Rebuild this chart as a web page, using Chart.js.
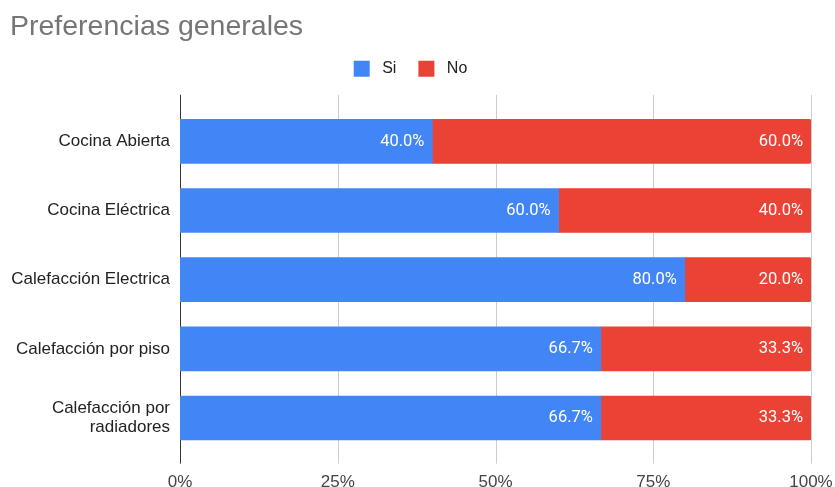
<!DOCTYPE html>
<html>
<head>
<meta charset="utf-8">
<script src="https://cdn.jsdelivr.net/npm/chart.js@4"></script>
<style>
  html, body { margin: 0; padding: 0; background: #fff; }
  #wrap { width: 835px; height: 487px; }
</style>
</head>
<body>
<div id="wrap"><canvas id="preferenciasChart"></canvas></div>
<script>
// Preferencias generales (porcentaje Si / No)
const categorias = [
  'Cocina Abierta',
  'Cocina Eléctrica',
  'Calefacción Electrica',
  'Calefacción por piso',
  ['Calefacción por', 'radiadores']
];
const valoresSi = [40.0, 60.0, 80.0, 66.7, 66.7];
const valoresNo = [60.0, 40.0, 20.0, 33.3, 33.3];
const ticksX = [0, 25, 50, 75, 100];

const FUENTE = "'Liberation Sans', Arial, sans-serif";

// deja mas aire entre la leyenda y las barras
const espacioLeyenda = {
  id: 'espacioLeyenda',
  beforeInit(chart) {
    const fitOriginal = chart.legend.fit;
    chart.legend.fit = function () {
      fitOriginal.call(this);
      this.height += 20;
    };
  }
};

// lineas verticales de la grilla y el eje, un poco mas largas que el area
const grillaExtendida = {
  id: 'grillaExtendida',
  beforeDatasetsDraw(chart) {
    const { ctx, chartArea, scales } = chart;
    const top = chartArea.top - 12;
    const bottom = chartArea.bottom + 11;
    ctx.save();
    ctx.lineWidth = 1;
    ticksX.forEach(v => {
      const x = Math.round(scales.x.getPixelForValue(v)) + 0.5;
      ctx.strokeStyle = v === 0 ? '#333333' : '#cccccc';
      ctx.beginPath();
      ctx.moveTo(x, top);
      ctx.lineTo(x, bottom);
      ctx.stroke();
    });
    ctx.restore();
  }
};

// etiquetas de porcentaje dentro de cada barra
const etiquetasBarras = {
  id: 'etiquetasBarras',
  afterDatasetsDraw(chart) {
    const { ctx } = chart;
    ctx.save();
    ctx.font = '16.5px Roboto';
    ctx.fillStyle = '#ffffff';
    ctx.textAlign = 'right';
    ctx.textBaseline = 'middle';
    chart.data.datasets.forEach((ds, i) => {
      chart.getDatasetMeta(i).data.forEach((bar, j) => {
        ctx.fillText(ds.data[j].toFixed(1) + '%', bar.x - 8, bar.y);
      });
    });
    ctx.restore();
  }
};

const ctx = document.getElementById('preferenciasChart').getContext('2d');
new Chart(ctx, {
  type: 'bar',
  data: {
    labels: categorias,
    datasets: [{
      label: 'Si',
      data: valoresSi,
      backgroundColor: '#4285f4',
      barThickness: 44
    }, {
      label: 'No',
      data: valoresNo,
      backgroundColor: '#ea4335',
      borderRadius: 2,
      barThickness: 44
    }]
  },
  plugins: [espacioLeyenda, grillaExtendida, etiquetasBarras],
  options: {
    indexAxis: 'y',
    responsive: true,
    maintainAspectRatio: false,
    animation: false,
    layout: {
      padding: { left: 10, right: 24, top: 0, bottom: 0 }
    },
    plugins: {
      title: {
        display: true,
        text: 'Preferencias generales',
        align: 'start',
        color: '#757575',
        font: { family: FUENTE, size: 28.5, weight: 'normal', lineHeight: 0.8 },
        padding: { top: 16, bottom: 0 }
      },
      legend: {
        display: true,
        labels: {
          boxWidth: 16,
          boxHeight: 16,
          color: '#222222',
          font: { family: FUENTE, size: 16 },
          padding: 22,
          generateLabels(chart) {
            return Chart.defaults.plugins.legend.labels.generateLabels(chart)
              .map(item => Object.assign(item, { text: ' ' + item.text }));
          }
        }
      },
      tooltip: { enabled: false }
    },
    scales: {
      x: {
        stacked: true,
        min: 0,
        max: 100,
        border: { display: false },
        grid: { display: false, drawTicks: false },
        ticks: {
          stepSize: 25,
          padding: 20,
          color: '#444444',
          font: { family: FUENTE, size: 17 },
          callback: v => v + '%'
        },
        afterFit(scale) {
          scale.height = 34.4;
          scale.paddingLeft = 0;
          scale.paddingRight = 0;
        }
      },
      y: {
        stacked: true,
        border: { display: false },
        grid: { display: false, drawTicks: false },
        ticks: {
          padding: 10,
          color: '#222222',
          font: { family: FUENTE, size: 17, lineHeight: 1.1 }
        },
        afterFit(scale) {
          scale.width = 170;
        }
      }
    }
  }
});
</script>
</body>
</html>
